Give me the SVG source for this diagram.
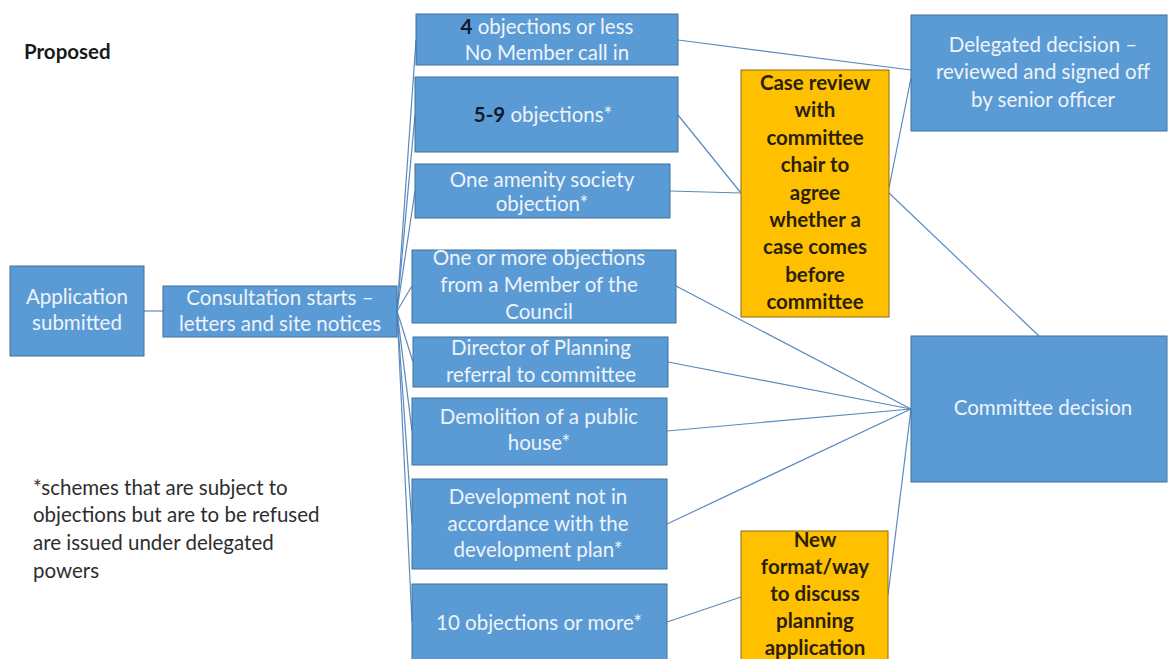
<svg xmlns="http://www.w3.org/2000/svg" width="1169" height="659" viewBox="0 0 1169 659">
<style>
.b{fill:#5b9bd5;stroke:#41719c;stroke-width:1}
.o{fill:#ffc000;stroke:#8a6a10;stroke-width:1}
.t{font-family:Lato,"Liberation Sans",sans-serif;font-size:20.5px;fill:#eef3f9;text-anchor:middle}
.k{font-family:Lato,"Liberation Sans",sans-serif;font-size:20.5px;font-weight:bold;fill:#2a1f0a;text-anchor:middle}
.d{font-weight:bold;fill:#111827}
.n{font-family:Lato,"Liberation Sans",sans-serif;font-size:20.5px;fill:#2e2e2e}
.c{stroke:#5a8ac0;stroke-width:1.2;fill:none}
</style>
<rect width="1169" height="659" fill="#ffffff"/>
<g id="connectors">
<line class="c" x1="144" y1="311" x2="163" y2="311"/>
<line class="c" x1="397" y1="311" x2="416" y2="40"/>
<line class="c" x1="397" y1="311" x2="415" y2="115"/>
<line class="c" x1="397" y1="311" x2="415" y2="191"/>
<line class="c" x1="397" y1="311" x2="412" y2="286"/>
<line class="c" x1="397" y1="311" x2="413" y2="362"/>
<line class="c" x1="397" y1="311" x2="412" y2="431"/>
<line class="c" x1="397" y1="311" x2="412" y2="524"/>
<line class="c" x1="397" y1="311" x2="412" y2="622"/>
<line class="c" x1="678" y1="40" x2="911" y2="70"/>
<line class="c" x1="678" y1="115" x2="741" y2="193"/>
<line class="c" x1="670" y1="191" x2="741" y2="193"/>
<line class="c" x1="889" y1="188" x2="911" y2="78"/>
<line class="c" x1="889" y1="193" x2="1039" y2="336"/>
<line class="c" x1="676" y1="286" x2="911" y2="409"/>
<line class="c" x1="668" y1="362" x2="911" y2="409"/>
<line class="c" x1="667" y1="431" x2="911" y2="409"/>
<line class="c" x1="667" y1="524" x2="911" y2="409"/>
<line class="c" x1="667" y1="622" x2="741" y2="597"/>
<line class="c" x1="888" y1="595" x2="911" y2="409"/>
</g>
<g id="title"><text class="n" x="24" y="59" style="font-weight:bold;fill:#1a1a1a">Proposed</text></g>
<g id="application"><rect class="b" x="10" y="266" width="134" height="90"/>
<text class="t" x="77" y="304">Application</text><text class="t" x="77" y="330">submitted</text></g>
<g id="consultation"><rect class="b" x="163" y="286" width="234" height="51"/>
<text class="t" x="280" y="305">Consultation starts –</text><text class="t" x="280" y="331">letters and site notices</text></g>
<g id="obj4"><rect class="b" x="416" y="14" width="262" height="51"/>
<text class="t" x="547" y="34"><tspan class="d">4</tspan> objections or less</text><text class="t" x="547" y="60">No Member call in</text></g>
<g id="obj59"><rect class="b" x="415" y="77" width="263" height="75"/>
<text class="t" x="543" y="122"><tspan class="d">5-9</tspan> objections*</text></g>
<g id="amenity"><rect class="b" x="415" y="164" width="255" height="54"/>
<text class="t" x="542" y="187">One amenity society</text><text class="t" x="542" y="211">objection*</text></g>
<g id="member"><rect class="b" x="412" y="250" width="264" height="73"/>
<text class="t" x="539" y="265">One or more objections</text><text class="t" x="539" y="292">from a Member of the</text><text class="t" x="539" y="319">Council</text></g>
<g id="director"><rect class="b" x="413" y="337" width="255" height="50"/>
<text class="t" x="541" y="355">Director of Planning</text><text class="t" x="541" y="382">referral to committee</text></g>
<g id="demolition"><rect class="b" x="412" y="398" width="255" height="67"/>
<text class="t" x="539" y="424">Demolition of a public</text><text class="t" x="539" y="450">house*</text></g>
<g id="development"><rect class="b" x="412" y="479" width="255" height="90"/>
<text class="t" x="538" y="504">Development not in</text><text class="t" x="538" y="531">accordance with the</text><text class="t" x="538" y="557">development plan*</text></g>
<g id="obj10"><rect class="b" x="412" y="584" width="255" height="80"/>
<text class="t" x="539" y="630">10 objections or more*</text></g>
<g id="casereview"><rect class="o" x="741" y="70" width="148" height="247"/>
<text class="k" x="815" y="90">Case review</text><text class="k" x="815" y="117.4">with</text><text class="k" x="815" y="144.8">committee</text><text class="k" x="815" y="172.2">chair to</text><text class="k" x="815" y="199.6">agree</text><text class="k" x="815" y="227">whether a</text><text class="k" x="815" y="254.4">case comes</text><text class="k" x="815" y="281.8">before</text><text class="k" x="815" y="309.2">committee</text></g>
<g id="newformat"><rect class="o" x="741" y="531" width="147" height="135"/>
<text class="k" x="815" y="547">New</text><text class="k" x="815" y="574">format/way</text><text class="k" x="815" y="601">to discuss</text><text class="k" x="815" y="628">planning</text><text class="k" x="815" y="655">application</text></g>
<g id="delegated"><rect class="b" x="911" y="15" width="256" height="116"/>
<text class="t" x="1043" y="52">Delegated decision –</text><text class="t" x="1043" y="79">reviewed and signed off</text><text class="t" x="1043" y="107">by senior officer</text></g>
<g id="committee"><rect class="b" x="911" y="336" width="256" height="146"/>
<text class="t" x="1043" y="415">Committee decision</text></g>
<g id="footnote"><text class="n" x="33" y="495">*schemes that are subject to</text><text class="n" x="33" y="522">objections but are to be refused</text><text class="n" x="33" y="550">are issued under delegated</text><text class="n" x="33" y="578">powers</text></g>
</svg>
